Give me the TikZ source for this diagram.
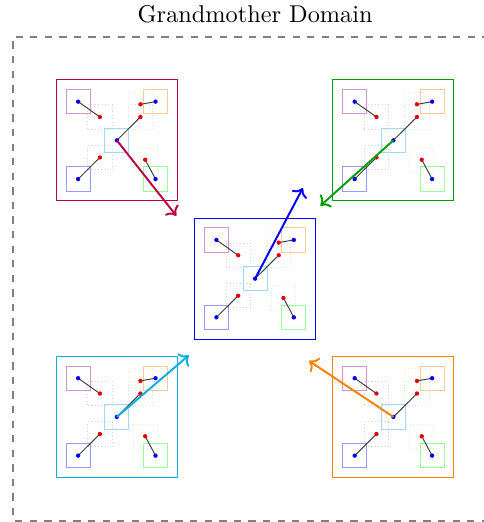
\documentclass[tikz,border=0pt]{standalone}
\usepackage{tikz}
\usetikzlibrary{arrows.meta, positioning}
\definecolor{domPurple}{rgb}{0.75,0,0.25}
\definecolor{domGreen}{HTML}{00A000}
\definecolor{domCyan}{HTML}{0AADE6}
\definecolor{domOrange}{HTML}{FF8000}
\definecolor{subCyan}{HTML}{A0DCF0}
\tikzset{
  frameD/.style={draw=gray, thick, dashed},
  panel/.style={rectangle, thin, minimum size=1.75cm, inner sep=0pt},
  subbox/.style={rectangle, thin, minimum size=0.35cm, inner sep=0pt},
  ghost/.style={rectangle, thin, densely dotted, minimum size=0.35cm, inner sep=0pt},
  link/.style={black!75, thin},
  dotB/.style={fill=blue},
  dotR/.style={fill=red!90!black},
  arrowP/.style={->, thick, draw=domPurple},
  arrowB/.style={->, thick, draw=blue},
  arrowG/.style={->, thick, draw=domGreen},
  arrowC/.style={->, thick, draw=domCyan},
  arrowO/.style={->, thick, draw=domOrange},
  pics/domain/.style={code={
    \node[panel, draw=#1] (-box) {};
    % shifted copies of the subdomains
    \node[ghost, draw=violet!20] (-nwS) at (-0.245,0.338) {};
    \node[ghost, draw=orange!20] (-neS) at (0.341,0.521) {};
    \node[ghost, draw=cyan!20]   (-cS)  at (0.341,0.338) {};
    \node[ghost, draw=blue!20]   (-swS) at (-0.245,-0.247) {};
    \node[ghost, draw=green!20]  (-seS) at (0.41,-0.28) {};
    % subdomains
    \node[subbox, draw=violet!40] (-nw) at (-0.56,0.56) {};
    \node[subbox, draw=orange!40] (-ne) at (0.56,0.56) {};
    \node[subbox, draw=subCyan]   (-c)  at (0,0) {};
    \node[subbox, draw=blue!40]   (-sw) at (-0.56,-0.56) {};
    \node[subbox, draw=green!40]  (-se) at (0.56,-0.56) {};
    \foreach \s in {nw,ne,c,sw,se} {
      \draw[link] (-\s.center) -- (-\s S.center);
      \fill[dotB] (-\s.center) circle (0.9pt);
      \fill[dotR] (-\s S.center) circle (0.9pt);
    }
  }}
}
\begin{document}
\begin{tikzpicture}
  \useasboundingbox (-3.69,-3.52) rectangle (3.31,4.03);
  % frame runs on past the right edge
  \draw[frameD] (3.6,3.5) -- (-3.5,3.5) -- (-3.5,-3.5) -- (3.6,-3.5);
  \node[anchor=base] (title) at (0,3.7) {Grandmother Domain};

  \pic (tl) at (-2,2) {domain=domPurple};
  \pic (tr) at (2,2) {domain=domGreen};
  \pic (ctr) at (0,0) {domain=blue};
  \pic (bl) at (-2,-2) {domain=domCyan};
  \pic (br) at (2,-2) {domain=domOrange};

  % displacement of each mother domain
  \coordinate (tlEnd) at (-1.14,0.91);
  \coordinate (trEnd) at (0.945,1.055);
  \coordinate (ctrEnd) at (0.69,1.31);
  \coordinate (blEnd) at (-0.96,-1.11);
  \coordinate (brEnd) at (0.78,-1.19);
  \draw[arrowP] (tl-c.center) -- (tlEnd);
  \draw[arrowG] (tr-c.center) -- (trEnd);
  \draw[arrowB] (ctr-c.center) -- (ctrEnd);
  \draw[arrowC] (bl-c.center) -- (blEnd);
  \draw[arrowO] (br-c.center) -- (brEnd);
\end{tikzpicture}
\end{document}
